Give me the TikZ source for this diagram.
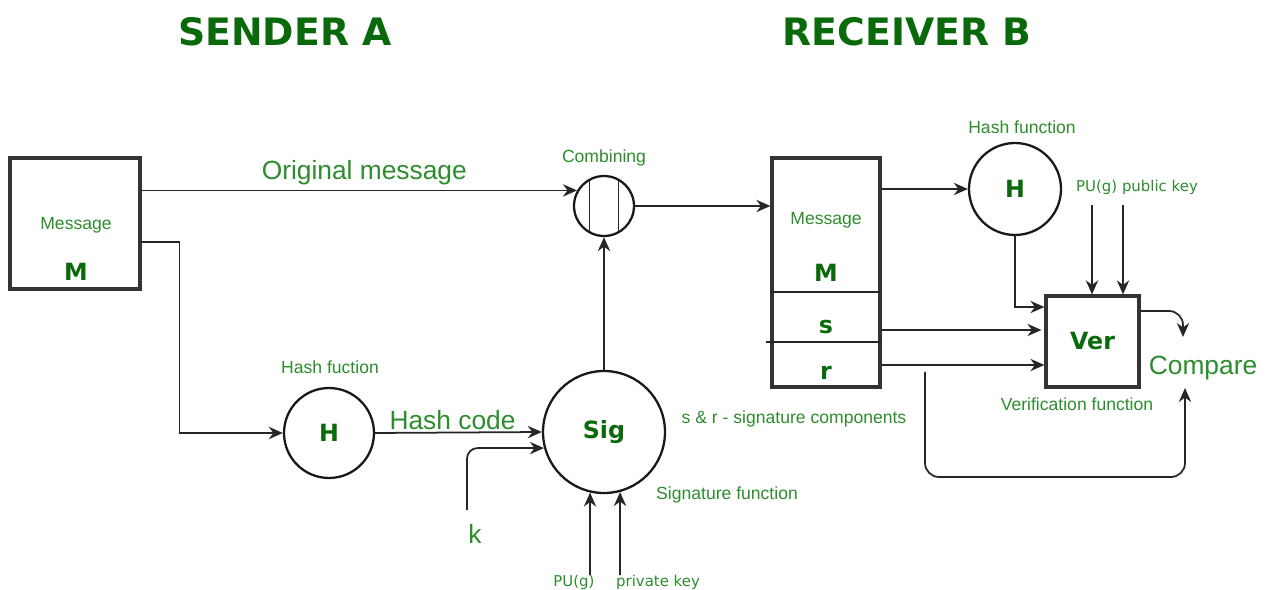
\documentclass[tikz,border=0pt]{standalone}
\usepackage{fontspec}
\setmainfont{Liberation Sans}
\newfontfamily\vfont{DejaVu Sans}
\usepackage{tikz}
\usetikzlibrary{positioning, arrows.meta}
\definecolor{titlegreen}{RGB}{10,105,10}
\definecolor{labelgreen}{RGB}{45,140,45}

\tikzset{
  blockbox/.style={draw=black!80, line width=1.8pt, inner sep=0pt},
  funcircle/.style={circle, draw=black!90, line width=1.3pt, inner sep=0pt},
  arr/.style={-{Stealth[length=8pt,width=7pt]}, draw=black!85, line width=1pt},
  plainline/.style={draw=black!85, line width=1pt},
  bigtitle/.style={text=titlegreen, font=\vfont\bfseries\fontsize{21.5}{24}\selectfont},
  boldlbl/.style={text=titlegreen, font=\vfont\bfseries\fontsize{13.5}{16}\selectfont},
  smalllbl/.style={text=labelgreen, font=\fontsize{10}{12}\selectfont},
  biglbl/.style={text=labelgreen, font=\fontsize{15}{18}\selectfont},
  keylbl/.style={text=labelgreen, font=\vfont\fontsize{8.5}{10}\selectfont}
}

\begin{document}
\begin{tikzpicture}[x=0.02cm, y=-0.02cm]
\useasboundingbox (0,0) rectangle (1273,590);

% titles
\node[bigtitle] (sendtitle) at (285,32) {SENDER A};
\node[bigtitle] (recvtitle) at (907,32) {RECEIVER B};

% sender side
\node[blockbox, minimum width=2.6cm, minimum height=2.62cm] (sendmsg) at (75,223.5) {};
\node[smalllbl] (sendtxt) at (76,225) {Message};
\node[boldlbl] (sendM) at (76,272) {M};

\node[funcircle, minimum size=1.8cm] (hashA) at (329,433) {};
\node[boldlbl] at (hashA) {H};
\node[smalllbl] (hashAlbl) at (330,367) {Hash fuction};

\node[funcircle, minimum size=2.44cm] (sig) at (604,432) {};
\node[boldlbl] at (sig) {Sig};
\node[smalllbl] (siglbl) at (727,495) {Signature function};
\node[smalllbl] (srlbl) at (794,419) {s \& r - signature components};

\node[funcircle, minimum size=1.2cm] (comb) at (604,206) {};
\node[smalllbl] (comblbl) at (604,158) {Combining};
\draw[plainline] (comb.center) ++(-14.5,-26) -- ++(0,52);
\draw[plainline] (comb.center) ++(14.5,-26) -- ++(0,52);

\node[biglbl] (klbl) at (475,534) {k};
\node[keylbl] (puglbl) at (574,582) {PU(g)};
\node[keylbl] (privlbl) at (658,582) {private key};
\coordinate (kstart) at (467,510);
\coordinate (pugin) at (590,575);
\coordinate (privin) at (620,575);

\draw[arr] (sendmsg.east |- comb.150) -- node[biglbl, above=-1pt, xshift=0.1cm] (origlbl) {Original message} (comb.150);
\draw[arr] ([yshift=-0.37cm]sendmsg.east) -- ++(38,0) |- (hashA.west);
\draw[arr] (hashA.east) -- node[biglbl, above=-2pt, xshift=-0.12cm] (hashcode) {Hash code} (sig.west);
\draw[arr, rounded corners=6pt] (kstart) |- (sig.195);
\draw[arr] (pugin) -- (sig.257);
\draw[arr] (privin) -- (sig.285);
\draw[arr] (sig.north) -- (comb.south);

% receiver side
\node[blockbox, minimum width=2.16cm, minimum height=4.58cm] (recvmsg) at (826,272.5) {};
\node[smalllbl] (recvtxt) at (826,220) {Message};
\node[boldlbl] (recvM) at (826,273) {M};
\node[boldlbl] (recvs) at (826,327) {s};
\node[boldlbl] (recvr) at (826,373) {r};
\draw[plainline] (recvmsg.west |- 0,292) -- ++(110,0);
\draw[plainline] ([xshift=-0.08cm]recvmsg.west |- 0,342) -- (recvmsg.east |- 0,342);

\node[funcircle, minimum size=1.84cm] (hashB) at (1015,189) {};
\node[boldlbl] at (hashB) {H};
\node[smalllbl] (hashBlbl) at (1022,127) {Hash function};

\node[blockbox, minimum width=1.86cm, minimum height=1.82cm] (ver) at (1092.5,341.5) {};
\node[boldlbl] at (ver) {Ver};
\node[smalllbl] (verlbl) at (1077,404) {Verification function};
\node[keylbl] (publbl) at (1137,187) {PU(g) public key};
\node[biglbl] (compare) at (1203,368) {Compare};

\coordinate (pubA) at (1092,205);
\coordinate (pubB) at (1123,205);
\coordinate (cmptop) at (1183,337);
\coordinate (cmpbot) at (1185,388);
\coordinate (rtap) at (925,372);

\draw[arr] (comb.east) -- (recvmsg.west |- comb.east);
\draw[arr] (recvmsg.east |- hashB.west) -- (hashB.west);
\draw[arr] (hashB.south) |- ([yshift=0.69cm]ver.west);
\draw[arr] (recvmsg.east |- 0,330) -- ([xshift=-0.06cm]ver.west |- 0,330);
\draw[arr] (recvmsg.east |- 0,365) -- (ver.west |- 0,365);
\draw[arr] (pubA) -- (ver.north -| pubA);
\draw[arr] (pubB) -- (ver.north -| pubB);
\draw[arr, rounded corners=8pt] ([yshift=0.61cm]ver.east) -| (cmptop);
\draw[arr, rounded corners=8pt] (rtap) |- (cmpbot |- 0,477) -- (cmpbot);

\end{tikzpicture}
\end{document}
